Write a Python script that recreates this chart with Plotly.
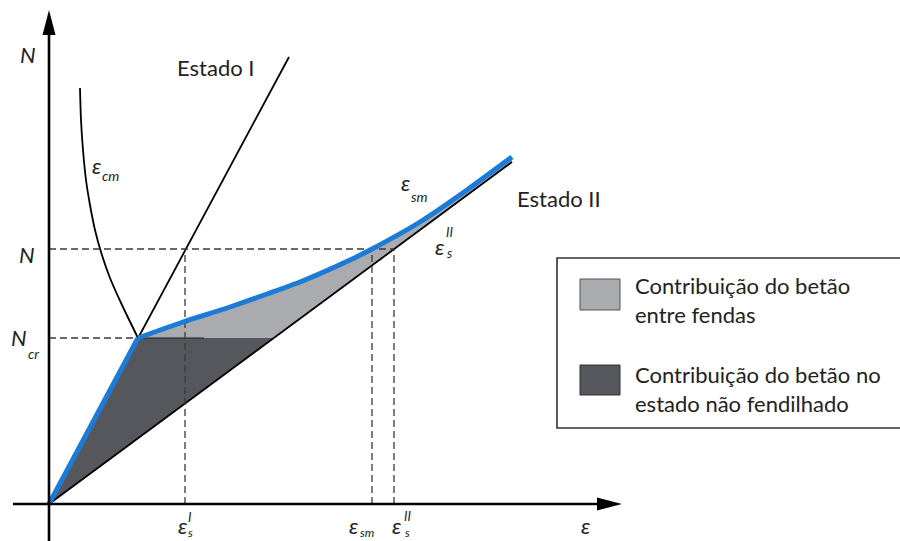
"""Tension stiffening diagram: N vs strain for a cracked RC tie."""

import plotly.graph_objects as go

# diagram units: strain on x, normal force on y (arbitrary scale)
N_cr = 1.66
N_val = 2.55
eps_cr = 0.89
eps_sI = 1.36
eps_sm_N = 3.23
eps_sII = 3.45

# Estado I (uncracked) and Estado II (fully cracked) lines
estado1_x = [0.0, 2.40]
estado1_y = [0.0, 4.47]
estado2_x = [0.0, 4.63]
estado2_y = [0.0, 3.42]

# mean steel strain curve (after cracking)
sm_x = [0.89, 1.34, 1.81, 2.18, 2.51, 3.01, 3.23, 3.71, 4.18, 4.63]
sm_y = [1.66, 1.82, 1.97, 2.10, 2.22, 2.44, 2.55, 2.82, 3.14, 3.47]

# mean concrete strain curve
cm_x = [0.31, 0.32, 0.34, 0.37, 0.41, 0.46, 0.52, 0.61, 0.73, 0.89]
cm_y = [4.16, 3.84, 3.54, 3.24, 2.99, 2.74, 2.52, 2.26, 1.99, 1.66]

legend_labels = ["Contribuição do betão<br>entre fendas",
                 "Contribuição do betão no<br>estado não fendilhado"]

BLUE = "#1c7bd6"
LIGHT = "#a9abaf"
DARK = "#55575c"
FONT = "Lato, Open Sans, sans-serif"

fig = go.Figure()

# Estado II strain at N_cr
e2_cr = N_cr * estado2_x[1] / estado2_y[1]

# dark region: uncracked concrete contribution
fig.add_trace(go.Scatter(
    x=[0, eps_cr, e2_cr, 0], y=[0, N_cr, N_cr, 0],
    fill="toself", fillcolor=DARK, line=dict(width=0), mode="lines",
    hoverinfo="skip", showlegend=False,
))
# light region: concrete between cracks
fig.add_trace(go.Scatter(
    x=sm_x + [estado2_x[1], e2_cr, sm_x[0]],
    y=sm_y + [estado2_y[1], N_cr, sm_y[0]],
    fill="toself", fillcolor=LIGHT, line=dict(width=0),
    mode="lines", hoverinfo="skip", showlegend=False,
))

# black reference lines
for xs, ys in [(estado1_x, estado1_y), (estado2_x, estado2_y)]:
    fig.add_trace(go.Scatter(x=xs, y=ys, mode="lines",
                             line=dict(color="black", width=1.8),
                             hoverinfo="skip", showlegend=False))
fig.add_trace(go.Scatter(x=cm_x, y=cm_y, mode="lines",
                         line=dict(color="black", width=1.8, shape="spline", smoothing=0.8),
                         hoverinfo="skip", showlegend=False))
fig.add_trace(go.Scatter(x=[eps_cr, 1.55], y=[N_cr, N_cr], mode="lines",
                         line=dict(color="#222", width=1.2),
                         hoverinfo="skip", showlegend=False))

# dashed guides
dash = dict(color="#3a3a3a", width=1.3, dash="7px,4px")
fig.add_trace(go.Scatter(x=[0, eps_sII], y=[N_val, N_val], mode="lines",
                         line=dash, hoverinfo="skip", showlegend=False))
fig.add_trace(go.Scatter(x=[0, eps_cr], y=[N_cr, N_cr], mode="lines",
                         line=dash, hoverinfo="skip", showlegend=False))
for ex in [eps_sI, eps_sm_N, eps_sII]:
    fig.add_trace(go.Scatter(x=[ex, ex], y=[0, N_val], mode="lines",
                             line=dash, hoverinfo="skip", showlegend=False))

# blue response curve: linear up to cracking, then mean steel strain
fig.add_trace(go.Scatter(
    x=[0, sm_x[0]], y=[0, sm_y[0]], mode="lines",
    line=dict(color=BLUE, width=5), hoverinfo="skip", showlegend=False,
))
fig.add_trace(go.Scatter(
    x=sm_x, y=sm_y, mode="lines",
    line=dict(color=BLUE, width=5, shape="spline", smoothing=0.6),
    hoverinfo="skip", showlegend=False,
))

# axes with arrows
x_tip, y_tip = 5.73, 4.94
head_len, head_half = 0.25, 0.065
fig.add_trace(go.Scatter(x=[0, 0], y=[-0.40, y_tip - head_len], mode="lines",
                         line=dict(color="black", width=2.6),
                         hoverinfo="skip", showlegend=False))
fig.add_trace(go.Scatter(x=[-0.36, x_tip - head_len], y=[0, 0], mode="lines",
                         line=dict(color="black", width=2.6),
                         hoverinfo="skip", showlegend=False))
fig.add_shape(type="path", fillcolor="black", line=dict(width=0),
              path=f"M 0 {y_tip} L {-head_half} {y_tip - head_len} L {head_half} {y_tip - head_len} Z")
fig.add_shape(type="path", fillcolor="black", line=dict(width=0),
              path=f"M {x_tip} 0 L {x_tip - head_len} {-head_half} L {x_tip - head_len} {head_half} Z")


def label(x, y, text, size=22, anchor="center"):
    fig.add_annotation(x=x, y=y, text=text, showarrow=False, xanchor=anchor,
                       yanchor="middle", align="left",
                       font=dict(family=FONT, size=size, color="#222"))


# axis labels
label(-0.21, 4.50, "<i>N</i>")
label(-0.22, 2.50, "<i>N</i>")
label(-0.30, 1.67, "<i>N</i>")
label(-0.16, 1.51, "<i>cr</i>", 14)
label(5.36, -0.21, "<i>ε</i>")

# curve labels
label(1.66, 4.37, "Estado I")
label(5.10, 3.06, "Estado II")
label(0.47, 3.39, "<i>ε</i>")
label(0.61, 3.29, "<i>cm</i>", 14)
label(3.56, 3.22, "<i>ε</i>")
label(3.70, 3.08, "<i>sm</i>", 14)
label(3.90, 2.58, "<i>ε</i>")
label(4.00, 2.72, "<i>II</i>", 13)
label(4.00, 2.51, "<i>s</i>", 13)

# strain ticks
label(1.33, -0.21, "<i>ε</i>")
label(1.40, -0.13, "<i>I</i>", 13)
label(1.41, -0.285, "<i>s</i>", 12)
label(3.04, -0.21, "<i>ε</i>")
label(3.18, -0.285, "<i>sm</i>", 12)
label(3.47, -0.21, "<i>ε</i>")
label(3.58, -0.12, "<i>II</i>", 13)
label(3.58, -0.285, "<i>s</i>", 12)

# legend box
fig.add_shape(type="rect", x0=5.08, x1=8.60, y0=0.76, y1=2.46,
              line=dict(color="#333", width=1.6), fillcolor="white")
fig.add_shape(type="rect", x0=5.31, x1=5.71, y0=1.94, y1=2.25,
              line=dict(color="#555", width=1), fillcolor=LIGHT)
fig.add_shape(type="rect", x0=5.31, x1=5.71, y0=1.09, y1=1.39,
              line=dict(color="#333", width=1), fillcolor=DARK)
for txt, yc in zip(legend_labels, [2.04, 1.15]):
    label(5.84, yc, txt, 22, anchor="left")

fig.update_layout(
    width=900, height=541,
    margin=dict(l=0, r=0, t=0, b=0),
    plot_bgcolor="white", paper_bgcolor="white",
    xaxis=dict(range=[-0.49, 8.51], visible=False, fixedrange=True),
    yaxis=dict(range=[-0.37, 5.04], visible=False, fixedrange=True),
    showlegend=False,
)

fig.write_html("out.html", config={"displayModeBar": False},
               post_script="document.body.style.margin='0';")
